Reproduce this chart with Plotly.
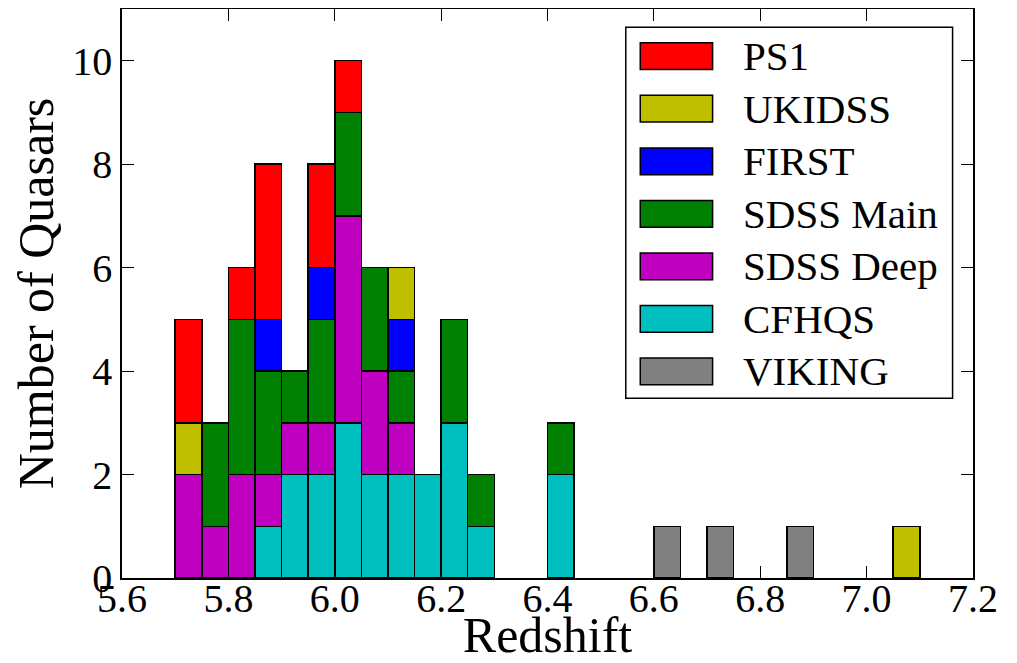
import plotly.graph_objects as go

# Histogram bins (left edges), width 0.05
bin_starts = [5.70, 5.75, 5.80, 5.85, 5.90, 5.95, 6.00, 6.05, 6.10, 6.15,
              6.20, 6.25, 6.30, 6.35, 6.40, 6.45, 6.50, 6.55, 6.60, 6.65,
              6.70, 6.75, 6.80, 6.85, 6.90, 6.95, 7.00, 7.05]
bin_width = 0.05

# Counts per survey (stacked bottom -> top)
viking    = [0, 0, 0, 0, 0, 0, 0, 0, 0, 0, 0, 0, 0, 0, 0, 0, 0, 0, 1, 0, 1, 0, 0, 1, 0, 0, 0, 0]
cfhqs     = [0, 0, 0, 1, 2, 2, 3, 2, 2, 2, 3, 1, 0, 0, 2, 0, 0, 0, 0, 0, 0, 0, 0, 0, 0, 0, 0, 0]
sdss_deep = [2, 1, 2, 1, 1, 1, 4, 2, 1, 0, 0, 0, 0, 0, 0, 0, 0, 0, 0, 0, 0, 0, 0, 0, 0, 0, 0, 0]
sdss_main = [0, 2, 3, 2, 1, 2, 2, 2, 1, 0, 2, 1, 0, 0, 1, 0, 0, 0, 0, 0, 0, 0, 0, 0, 0, 0, 0, 0]
first     = [0, 0, 0, 1, 0, 1, 0, 0, 1, 0, 0, 0, 0, 0, 0, 0, 0, 0, 0, 0, 0, 0, 0, 0, 0, 0, 0, 0]
ukidss    = [1, 0, 0, 0, 0, 0, 0, 0, 1, 0, 0, 0, 0, 0, 0, 0, 0, 0, 0, 0, 0, 0, 0, 0, 0, 0, 0, 1]
ps1       = [2, 0, 1, 3, 0, 2, 1, 0, 0, 0, 0, 0, 0, 0, 0, 0, 0, 0, 0, 0, 0, 0, 0, 0, 0, 0, 0, 0]

series_names = ["VIKING", "CFHQS", "SDSS Deep", "SDSS Main", "FIRST", "UKIDSS", "PS1"]
series_values = [viking, cfhqs, sdss_deep, sdss_main, first, ukidss, ps1]
series_colors = ["#808080", "#00BFBF", "#BF00BF", "#008000", "#0000FF", "#BFBF00", "#FF0000"]

x_ticks = [5.6, 5.8, 6.0, 6.2, 6.4, 6.6, 6.8, 7.0, 7.2]
y_ticks = [0, 2, 4, 6, 8, 10]

FONT = "Liberation Serif"

fig = go.Figure()
for name, vals, col in zip(series_names, series_values, series_colors):
    fig.add_trace(go.Bar(
        x=bin_starts,
        y=[v if v else None for v in vals],
        width=bin_width,
        offset=0,
        name=name,
        marker=dict(color=col, line=dict(color="black", width=1.5)),
        showlegend=False,
    ))

# Legend drawn as boxes + labels in paper coordinates (matplotlib-style wide swatches)
shapes = []
annotations = []
shapes.append(dict(type="rect", xref="paper", yref="paper", x0=0.592, x1=0.976,
                   y0=0.316, y1=0.968, line=dict(color="black", width=1.5),
                   fillcolor="white", layer="above"))
row_top = 0.917
row_step = 0.0923
sw_h = 0.047
legend_order = list(zip(series_names, series_colors))[::-1]
for i, (name, col) in enumerate(legend_order):
    yc = row_top - i * row_step
    shapes.append(dict(type="rect", xref="paper", yref="paper", x0=0.609, x1=0.694,
                       y0=yc - sw_h / 2, y1=yc + sw_h / 2, fillcolor=col,
                       line=dict(color="black", width=1.5), layer="above"))
    annotations.append(dict(xref="paper", yref="paper", x=0.727, y=yc, text=name,
                            showarrow=False, xanchor="left", yanchor="middle",
                            font=dict(family=FONT, size=41, color="black")))

fig.update_layout(
    barmode="stack",
    width=1009, height=655,
    margin=dict(l=114, r=44, t=1, b=85),
    paper_bgcolor="white", plot_bgcolor="white",
    font=dict(family=FONT, color="black"),
    shapes=shapes, annotations=annotations,
    xaxis=dict(range=[5.6, 7.2], tickvals=x_ticks, ticktext=[f"{t:.1f}" for t in x_ticks],
               ticks="inside", ticklen=12, tickwidth=1.2, tickcolor="black",
               showline=True, linecolor="black", linewidth=1.5, mirror="ticks",
               showgrid=False, zeroline=False, tickfont=dict(size=40, family=FONT),
               ticklabelstandoff=-16,
               title=dict(text="Redshift", font=dict(size=50, family=FONT), standoff=4),
               automargin=False),
    yaxis=dict(range=[0, 11], tickvals=y_ticks, ticks="inside", ticklen=12, tickwidth=1.2,
               tickcolor="black", showline=True, linecolor="black", linewidth=1.5,
               mirror="ticks", showgrid=False, zeroline=False,
               tickfont=dict(size=40, family=FONT),
               title=dict(text="Number of Quasars", font=dict(size=50, family=FONT), standoff=10),
               automargin=False),
)

fig.write_html("out.html")
